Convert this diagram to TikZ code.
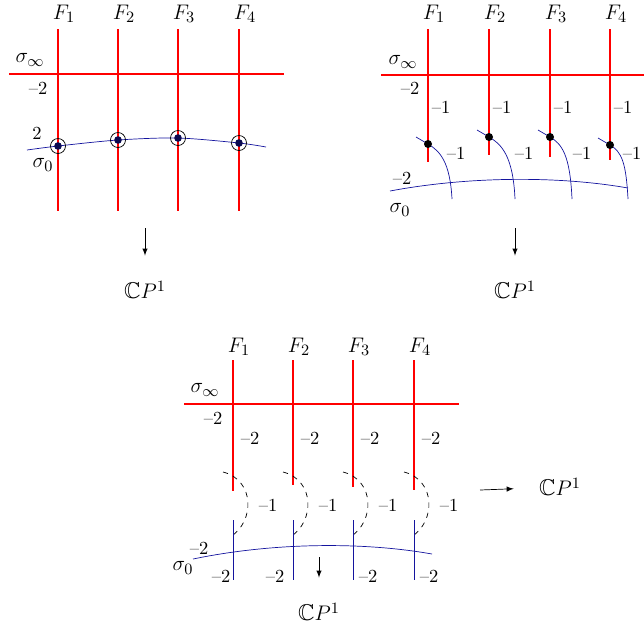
\documentclass[tikz,border=0pt]{standalone}
\usepackage{amssymb}
\definecolor{secblue}{rgb}{0.08,0.08,0.62}
\tikzset{
  fibre/.style={red, very thick},
  section/.style={secblue, thin},
  num/.style={font=\fontsize{10.5}{12}\selectfont},
  lbl/.style={font=\fontsize{13}{15}\selectfont},
}
\begin{document}
\begin{tikzpicture}[x=0.02cm, y=-0.02cm, >=latex]
    \useasboundingbox (0,0) rectangle (644,633);

    % Blown-down surface: sigma_0 meets each fibre
    \begin{scope}
      \draw[fibre] (9,74) -- (284,74);
      \draw[section] plot[smooth] coordinates {(27,150) (58,146) (118,140) (178,138) (239,143) (266,147)};
      \foreach \x/\y/\i in {58/146/1, 118/140/2, 178/138/3, 239/143/4} {
        \draw[fibre] (\x,29) -- (\x,211);
        \node[lbl] (fa\i) at (\x+6,14) {$F_\i$};
        \draw[thin] (\x,\y) circle (7.5);
        \fill[secblue!50!black] (\x,\y) circle (3.8);
      }
      \node[lbl] (sinfa) at (30,60) {$\sigma_\infty$};
      \node[num] (ma) at (38,88) {--2};
      \node[num] (pa) at (37,133) {2};
      \node[lbl] (szeroa) at (43,165) {$\sigma_0$};
      \coordinate (ta) at (145,228);
      \node[lbl] (cpa) at (145,290) {$\mathbb{C}P^1$};
      \draw[->, shorten >=11pt] (ta) -- (cpa);
    \end{scope}

    % One blow-up at each point
    \begin{scope}[shift={(370,0)}]
      \draw[fibre] (11,75) -- (274,75);
      \draw[section] (20,191) .. controls (100,176) and (190,176) .. (258,188);
      \foreach \x/\b/\d/\e/\m/\i in {58/162/144/24/28/1, 119/155/137/26/35/2, 180/157/137/22/32/3, 240/160/145/18/22/4} {
        \draw[fibre] (\x,29) -- (\x,\b);
        \node[lbl] (fb\i) at (\x+6,14) {$F_\i$};
        \node[num] (ub\i) at (\x+13,107) {--1};
        \draw[section] (\x-12,\d-7) -- (\x,\d) .. controls (\x+12,\d+7) and (\x+\e-2,\d+18) .. (\x+\e,199);
        \fill (\x,\d) circle (4);
        \node[num] (eb\i) at (\x+\m,153) {--1};
      }
      \node[lbl] (sinfb) at (33,62) {$\sigma_\infty$};
      \node[num] (mb) at (40,88) {--2};
      \node[num] (nb) at (32,178) {--2};
      \node[lbl] (szerob) at (30,210) {$\sigma_0$};
      \coordinate (tb) at (145,228);
      \node[lbl] (cpb) at (145,290) {$\mathbb{C}P^1$};
      \draw[->, shorten >=11pt] (tb) -- (cpb);
    \end{scope}

    % Second blow-up: chains of -2 curves
    \begin{scope}[shift={(175,330)}]
      \draw[fibre] (9,74) -- (284,74);
      \draw[section] (18,229) .. controls (100,212) and (190,212) .. (257,224);
      \foreach \x/\b/\l/\i in {58/161/-12/1, 118/155/-18/2, 178/157/15/3, 239/160/15/4} {
        \draw[fibre] (\x,30) -- (\x,\b);
        \node[lbl] (fc\i) at (\x+6,17) {$F_\i$};
        \node[num] (uc\i) at (\x+17,108) {--2};
        \draw[dashed, thin] (\x-10,142) .. controls (\x+22,150) and (\x+22,192) .. (\x-3,207);
        \node[num] (ec\i) at (\x+35,175) {--1};
        \draw[section] (\x,190) -- (\x,250);
        \node[num] (lc\i) at (\x+\l,246) {--2};
      }
      \node[lbl] (sinfc) at (30,60) {$\sigma_\infty$};
      \node[num] (mc) at (38,88) {--2};
      \node[num] (nc) at (24,218) {--2};
      \node[lbl] (szeroc) at (8,238) {$\sigma_0$};
      \coordinate (tc) at (144,227);
      \node[lbl] (cpc) at (144,282) {$\mathbb{C}P^1$};
      \draw[->, shorten >=11pt] (tc) -- (cpc);
      \coordinate (rc) at (305,160);
      \node[lbl] (cpd) at (385,157) {$\mathbb{C}P^1$};
      \draw[->, shorten >=11pt] (rc) -- (cpd);
    \end{scope}
  \end{tikzpicture}
\end{document}
